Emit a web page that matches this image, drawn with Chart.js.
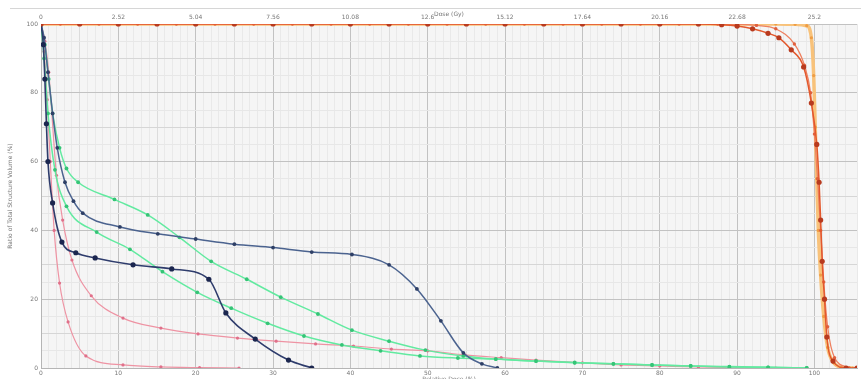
<!DOCTYPE html>
<html>
<head>
<meta charset="utf-8">
<script src="https://cdn.jsdelivr.net/npm/chart.js@4/dist/chart.umd.min.js"></script>
<style>
  html, body { margin: 0; padding: 0; background: #fff; overflow: hidden; }
  #wrap { position: relative; width: 861px; height: 392px; }
  #topRule { position: absolute; left: 10px; right: 0; top: 8px; height: 1px; background: #d6d6d6; }
</style>
</head>
<body>
<div id="wrap">
  <canvas id="dvhChart"></canvas>
  <div id="topRule"></div>
</div>
<script>
// DVH 数据（相对剂量 % / 体积 %）

// 顶部剂量刻度 (Gy)，对应 0,10,...,100 %
const doseTickLabels = ['0', '2.52', '5.04', '7.56', '10.08', '12.6', '15.12', '17.64', '20.16', '22.68', '25.2'];

// PTV 红（深红点）
const redDose = [0, 5, 10, 15, 20, 25, 30, 35, 40, 45, 50, 55, 60, 65, 70, 75, 80, 85, 88, 90, 92, 94, 95.4, 97, 98.6, 99.6, 100.3, 100.6, 100.8, 101.0, 101.3, 101.6, 102.4, 104.1, 105.5];
const redVol  = [100, 100, 100, 100, 100, 100, 100, 100, 100, 100, 100, 100, 100, 100, 100, 100, 100, 100, 99.8, 99.4, 98.6, 97.3, 96, 92.5, 87.5, 77, 65, 54, 43, 31, 20, 9, 2, 0, 0];

// PTV 浅红
const salmonDose = [0, 2.5, 7.5, 12.5, 17.5, 22.5, 27.5, 32.5, 37.5, 42.5, 47.5, 52.5, 57.5, 62.5, 67.5, 72.5, 77.5, 82.5, 87.5, 90, 92.5, 95, 97.4, 98.7, 99.5, 100, 100.4, 100.8, 101.2, 101.7, 102.6, 104.5];
const salmonVol  = [100, 100, 100, 100, 100, 100, 100, 100, 100, 100, 100, 100, 100, 100, 100, 100, 100, 100, 100, 99.9, 99.6, 98.6, 94.2, 88, 80, 68, 55, 40, 25, 12, 3, 0];

// PTV 橙黄
const orangeDose = [0, 5, 10, 15, 20, 25, 30, 35, 40, 45, 50, 55, 60, 65, 70, 75, 80, 85, 90, 95, 97.5, 99.0, 99.6, 99.9, 100.1, 100.3, 100.5, 100.8, 101.2, 101.7, 102.5, 103.5, 105];
const orangeVol  = [100, 100, 100, 100, 100, 100, 100, 100, 100, 100, 100, 100, 100, 100, 100, 100, 100, 100, 100, 100, 99.9, 99.5, 96, 85, 70, 55, 40, 27, 15, 6, 1.5, 0.2, 0];

// 深蓝 1（高平台）
const navy1Dose = [0, 0.4, 0.9, 1.5, 2.1, 3.1, 4.2, 5.4, 10.2, 15.1, 20, 25, 30, 35, 40.2, 45, 48.6, 51.7, 54.6, 57, 59];
const navy1Vol  = [100, 96, 86, 74, 64, 54, 48.5, 45, 41, 39, 37.5, 36, 35, 33.7, 33, 30, 23, 13.7, 4.4, 1.2, 0];

// 深蓝 2（低平台）
const navy2Dose = [0, 0.3, 0.5, 0.7, 0.9, 1.5, 2.7, 4.5, 7, 11.9, 16.9, 21.7, 23.9, 27.7, 32, 35];
const navy2Vol  = [100, 94, 84, 71, 60, 48, 36.6, 33.5, 32, 30, 28.8, 25.8, 16, 8.4, 2.3, 0];

// 绿 1
const green1Dose = [0, 0.5, 1, 1.5, 2.4, 3.3, 4.8, 9.5, 13.8, 17.9, 22, 26.6, 31, 35.8, 40.2, 45, 49.7, 54.6, 58.8, 64, 69, 74, 79, 84, 89, 94, 99];
const green1Vol  = [100, 94, 84, 74, 64, 58, 54, 49, 44.5, 38, 31, 25.8, 20.6, 15.7, 11, 7.8, 5.2, 3.5, 2.6, 2, 1.5, 1.2, 0.9, 0.6, 0.3, 0.2, 0];

// 绿 2
const green2Dose = [0, 0.4, 0.9, 1.8, 3.3, 7.2, 11.5, 15.7, 20.2, 24.6, 29.3, 34, 38.9, 43.9, 49, 53.9, 58.8, 64, 69, 74, 79, 84, 89, 94, 99];
const green2Vol  = [100, 90, 74, 57.6, 47, 39.5, 34.5, 28, 22, 17.4, 13, 9.3, 6.7, 5, 3.5, 2.9, 2.6, 2, 1.6, 1.2, 0.9, 0.6, 0.4, 0.2, 0];

// 粉 1
const pink1Dose = [0, 0.5, 1, 2, 2.8, 4, 6.5, 10.6, 15.5, 20.3, 25.4, 30.4, 35.5, 40.4, 45.3, 50, 54.8, 59.5, 64, 70, 75, 80, 85, 90, 95];
const pink1Vol  = [100, 95, 86, 56, 43, 31.4, 21, 14.5, 11.6, 9.9, 8.7, 7.8, 7, 6.4, 5.5, 5, 3.8, 3, 2.3, 1.5, 0.9, 0.6, 0.3, 0.1, 0];

// 粉 2
const pink2Dose = [0, 0.4, 0.8, 1.2, 1.7, 2.4, 3.5, 5.8, 10.6, 15.5, 20.5, 25.6];
const pink2Vol  = [100, 92, 78, 60, 40, 24.7, 13.4, 3.5, 0.9, 0.3, 0.1, 0];

function pts(xs, ys) {
    return xs.map(function(x, i) { return { x: x, y: ys[i] }; });
}

function curve(data, line, marker, width, radius) {
    return {
        data: data,
        showLine: true,
        borderColor: line,
        borderWidth: width,
        backgroundColor: marker,
        pointBackgroundColor: marker,
        pointBorderColor: marker,
        pointBorderWidth: 0,
        pointRadius: radius,
        cubicInterpolationMode: 'monotone',
        fill: false
    };
}

// 绘图区背景
const plotBg = {
    id: 'plotBg',
    beforeDraw(chart) {
        const a = chart.chartArea;
        const ctx = chart.ctx;
        ctx.save();
        ctx.fillStyle = '#f5f5f5';
        ctx.fillRect(a.left, a.top, a.right - a.left, a.bottom - a.top);
        ctx.restore();
    }
};

const tickFont = { family: 'DejaVu Sans', size: 6 };

function createDvhChart() {
    const ctx = document.getElementById('dvhChart');
    new Chart(ctx, {
        type: 'scatter',
        data: {
            datasets: [
                curve(pts(redDose, redVol), '#e3582c', '#b83a1e', 1.5, 2.6),
                curve(pts(salmonDose, salmonVol), '#ee8160', '#e0603e', 1.3, 1.7),
                curve(pts(orangeDose, orangeVol), '#f8c27a', '#ee9d45', 3.5, 1.6),
                curve(pts(navy2Dose, navy2Vol), '#2e3c6c', '#1b264f', 1.6, 2.6),
                curve(pts(navy1Dose, navy1Vol), '#4b638f', '#2e3f66', 1.5, 1.9),
                curve(pts(green1Dose, green1Vol), '#62eaa0', '#35c476', 1.5, 1.9),
                curve(pts(green2Dose, green2Vol), '#62eaa0', '#35c476', 1.5, 1.9),
                curve(pts(pink1Dose, pink1Vol), '#ee93a3', '#e0708a', 1.2, 1.6),
                curve(pts(pink2Dose, pink2Vol), '#ee93a3', '#e0708a', 1.2, 1.6)
            ]
        },
        options: {
            responsive: true,
            maintainAspectRatio: false,
            animation: false,
            layout: { padding: 0 },
            plugins: {
                legend: { display: false },
                tooltip: { enabled: false }
            },
            scales: {
                x: {
                    type: 'linear',
                    position: 'bottom',
                    min: 0,
                    max: 105.5,
                    afterFit: function(scale) { scale.height = 24; },
                    border: { color: '#b5b5b5' },
                    grid: {
                        drawTicks: false,
                        color: function(c) {
                            const v = c.tick ? c.tick.value : 0;
                            if (v % 10 === 0) return '#c2c2c2';
                            if (v % 5 === 0) return '#dcdcdc';
                            return '#e9e9e9';
                        }
                    },
                    ticks: {
                        stepSize: 1,
                        autoSkip: false,
                        maxRotation: 0,
                        padding: 2,
                        color: '#777',
                        font: tickFont,
                        callback: function(v) { return v % 10 === 0 ? String(v) : ''; }
                    },
                    title: {
                        display: true,
                        text: 'Relative Dose (%)',
                        color: '#777',
                        font: tickFont,
                        padding: { top: 0, bottom: 8.5 }
                    }
                },
                x2: {
                    type: 'linear',
                    position: 'top',
                    min: 0,
                    max: 105.5,
                    afterFit: function(scale) { scale.height = 24; },
                    border: { display: false },
                    grid: { display: false, drawTicks: false },
                    ticks: {
                        stepSize: 10,
                        autoSkip: false,
                        maxRotation: 0,
                        padding: 3,
                        color: '#777',
                        font: tickFont,
                        callback: function(v) {
                            const i = Math.round(v / 10);
                            return (v % 10 === 0 && i < doseTickLabels.length) ? doseTickLabels[i] : '';
                        }
                    },
                    title: {
                        display: true,
                        text: 'Dose (Gy)',
                        color: '#777',
                        font: tickFont,
                        padding: { top: 10.4, bottom: 0 }
                    }
                },
                y: {
                    type: 'linear',
                    min: 0,
                    max: 100,
                    afterFit: function(scale) { scale.width = 41; },
                    border: { color: '#b5b5b5' },
                    grid: {
                        drawTicks: false,
                        color: function(c) {
                            const v = c.tick ? c.tick.value : 0;
                            if (v % 20 === 0) return '#c2c2c2';
                            if (v % 10 === 0) return '#d6d6d6';
                            return '#e7e7e7';
                        }
                    },
                    ticks: {
                        stepSize: 5,
                        autoSkip: false,
                        padding: 3,
                        color: '#777',
                        font: tickFont,
                        callback: function(v) { return v % 20 === 0 ? String(v) : ''; }
                    },
                    title: {
                        display: true,
                        text: 'Ratio of Total Structure Volume (%)',
                        color: '#777',
                        font: tickFont,
                        padding: { top: 6.4, bottom: 0 }
                    }
                }
            }
        },
        plugins: [plotBg]
    });
}

document.addEventListener('DOMContentLoaded', createDvhChart);
</script>
</body>
</html>
